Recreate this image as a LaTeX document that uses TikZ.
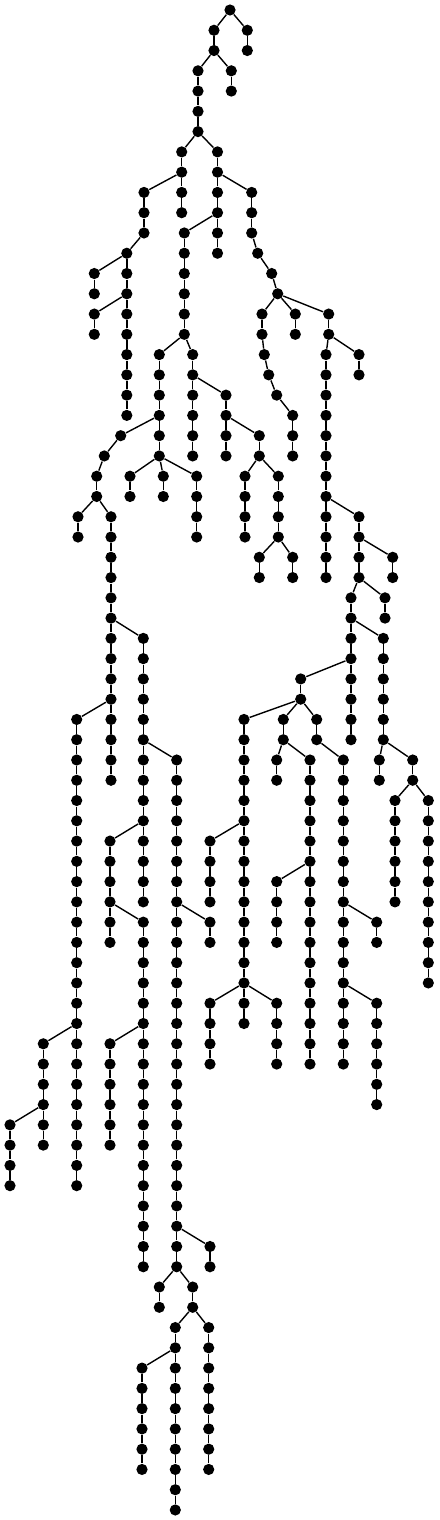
\documentclass[tikz,border=0pt]{standalone}
\tikzset{
  dot/.style={circle, fill=black, inner sep=0pt, minimum size=5.6pt},
  edge/.style={draw=black, line width=0.7pt}
}
\newcommand\tchain[5]{%
  \foreach \k in {#3,...,#4}{%
    \node[dot] (#1-\k) at (#2,{10+20.27*\k}) {};
  }%
  \draw[edge] (#5) -- (#1-#3);
  \foreach \k in {#3,...,#4}{%
    \ifnum\k>#3\relax
      \pgfmathtruncatemacro\prevk{\k-1}%
      \draw[edge] (#1-\prevk) -- (#1-\k);
    \fi
  }%
}
\begin{document}
\begin{tikzpicture}[x=0.5pt,y=-0.5pt]
\useasboundingbox (0,0) rectangle (439,1520);
\node[dot] (root) at (230,10) {};
\tchain{R1}{247.3}{1}{2}{root}
\tchain{A}{214}{1}{2}{root}
\tchain{Ab}{231.3}{3}{4}{A-2}
\tchain{B}{198}{3}{6}{A-2}
\tchain{C}{181.7}{7}{10}{B-6}
\tchain{D}{217.5}{7}{12}{B-6}
\tchain{E}{144}{9}{11}{C-8}
\tchain{F}{126.8}{12}{20}{E-11}
\tchain{Ga}{94.3}{13}{14}{F-12}
\tchain{Gb}{94.3}{15}{16}{F-14}
\tchain{H}{251.7}{9}{11}{D-8}
\tchain{Ia}{257.7}{12}{12}{H-11}
\tchain{Ib}{271.7}{13}{13}{Ia-12}
\tchain{Ic}{277.7}{14}{14}{Ib-13}
\tchain{Ja}{262}{15}{16}{Ic-14}
\tchain{Jb}{264.3}{17}{17}{Ja-16}
\tchain{Jc}{268.7}{18}{18}{Jb-17}
\tchain{Jd}{276.7}{19}{19}{Jc-18}
\tchain{Je}{292.7}{20}{22}{Jd-19}
\tchain{K}{295.3}{15}{16}{Ic-14}
\tchain{L}{328.7}{15}{16}{Ic-14}
\tchain{M}{326}{17}{28}{L-16}
\tchain{N}{359}{17}{18}{L-16}
\tchain{O}{359}{25}{28}{M-24}
\tchain{P}{392.7}{27}{28}{O-26}
\tchain{Q}{385}{29}{30}{O-28}
\tchain{R}{351}{29}{36}{O-28}
\tchain{S}{383.3}{31}{36}{R-30}
\tchain{T}{379.3}{37}{38}{S-36}
\tchain{U}{412.7}{37}{38}{S-36}
\tchain{V}{395}{39}{44}{U-38}
\tchain{W}{428.3}{39}{48}{U-38}
\tchain{X}{300.7}{33}{34}{R-32}
\tchain{Y}{244}{35}{50}{X-34}
\tchain{Z}{210}{41}{44}{Y-40}
\tchain{YA}{210}{49}{52}{Y-48}
\tchain{YB}{276.7}{49}{52}{Y-48}
\tchain{Yc}{283.3}{35}{36}{X-34}
\tchain{AA}{276.7}{37}{38}{Yc-36}
\tchain{AB}{310}{37}{52}{Yc-36}
\tchain{AC}{276.7}{43}{46}{AB-42}
\tchain{AD}{316.7}{35}{36}{X-34}
\tchain{AE}{343.3}{37}{52}{AD-36}
\tchain{AF}{376.7}{45}{46}{AE-44}
\tchain{AG}{376.7}{49}{54}{AE-48}
\tchain{BA}{184.3}{11}{16}{D-10}
\tchain{BB}{192.7}{17}{22}{BA-16}
\tchain{BC}{226}{19}{22}{BB-18}
\tchain{BD}{259.3}{21}{22}{BC-20}
\tchain{BE}{245}{23}{26}{BD-22}
\tchain{BF}{278.3}{23}{26}{BD-22}
\tchain{BG}{259.3}{27}{28}{BF-26}
\tchain{BH}{292.7}{27}{28}{BF-26}
\tchain{BI}{159.3}{17}{22}{BA-16}
\tchain{BJ}{120.7}{21}{21}{BI-20}
\tchain{BK}{104.3}{22}{22}{BJ-21}
\tchain{BL}{96.7}{23}{24}{BK-22}
\tchain{BM}{130}{23}{24}{BI-22}
\tchain{BN}{163.3}{23}{24}{BI-22}
\tchain{BO}{196.7}{23}{26}{BI-22}
\tchain{BP}{78}{25}{26}{BL-24}
\tchain{BQ}{111}{25}{38}{BL-24}
\tchain{BR}{143.3}{31}{44}{BQ-30}
\tchain{BS}{76.7}{35}{58}{BQ-34}
\tchain{BT}{43.3}{51}{56}{BS-50}
\tchain{BU}{10}{55}{58}{BT-54}
\tchain{BV}{176.7}{37}{62}{BR-36}
\tchain{BW}{210}{45}{46}{BV-44}
\tchain{BX}{110}{41}{46}{BR-40}
\tchain{BY}{143.3}{45}{62}{BX-44}
\tchain{BZ}{110}{51}{56}{BY-50}
\tchain{CA}{210}{61}{62}{BV-60}
\tchain{CB}{159.3}{63}{64}{BV-62}
\tchain{CC}{192.7}{63}{64}{BV-62}
\tchain{CD}{175.3}{65}{74}{CC-64}
\tchain{CE}{208.7}{65}{72}{CC-64}
\tchain{CF}{142}{67}{72}{CD-66}
\end{tikzpicture}
\end{document}
